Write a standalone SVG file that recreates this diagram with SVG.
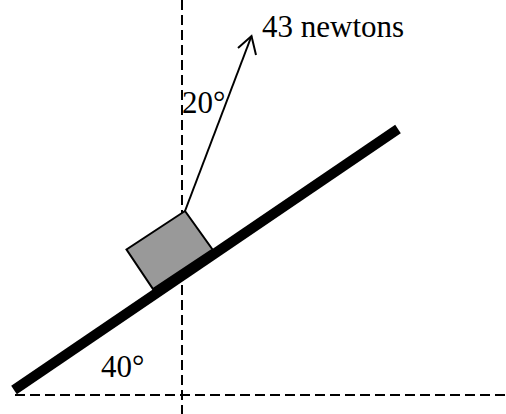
<svg xmlns="http://www.w3.org/2000/svg" width="506" height="414" viewBox="0 0 506 414">
<style>
.dash{stroke:#000;stroke-width:2;stroke-dasharray:10 5;fill:none}
.lbl{font-family:"Liberation Serif",serif;font-size:31px;fill:#000}
</style>
<rect width="506" height="414" fill="#fff"/>
<g id="axes">
<line class="dash" x1="182" y1="0" x2="182" y2="414"/>
<line class="dash" x1="15" y1="395" x2="506" y2="395"/>
</g>
<g id="incline">
<line x1="14" y1="390" x2="398" y2="129" stroke="#000" stroke-width="10"/>
</g>
<g id="block">
<polygon points="185,211 212.5,249.5 153,289 126.5,249.5" fill="#999" stroke="#000" stroke-width="2"/>
</g>
<g id="connectors">
<line x1="185" y1="211" x2="251.5" y2="36" stroke="#000" stroke-width="2"/>
<polyline points="238,48 251.5,36 256,55" fill="none" stroke="#000" stroke-width="2"/>
</g>
<g id="labels">
<text class="lbl" x="262" y="37">43 newtons</text>
<text class="lbl" x="182" y="113">20°</text>
<text class="lbl" x="101" y="377">40°</text>
</g>
</svg>
